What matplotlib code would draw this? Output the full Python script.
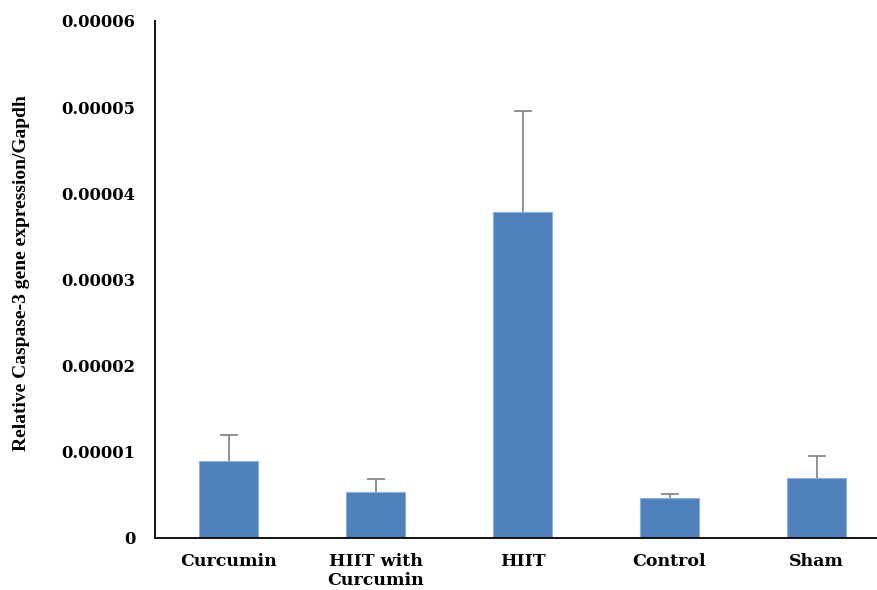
import matplotlib
matplotlib.use("Agg")
import matplotlib.pyplot as plt
from matplotlib.ticker import FixedLocator, FixedFormatter

# Relative Caspase-3 expression per group (mean and upper SD)
groups = ["Curcumin", "HIIT with\nCurcumin", "HIIT", "Control", "Sham"]
means = [0.0000089, 0.0000053, 0.0000378, 0.0000046, 0.0000070]
errors = [0.0000030, 0.0000016, 0.0000118, 0.0000005, 0.0000025]
yticks = [0, 0.00001, 0.00002, 0.00003, 0.00004, 0.00005, 0.00006]
ytick_labels = ["0", "0.00001", "0.00002", "0.00003", "0.00004", "0.00005", "0.00006"]

W, H = 877, 590
fig = plt.figure(figsize=(W / 100, H / 100), dpi=100)
ax = fig.add_axes([155 / W, 52 / H, (W - 155) / W, 517 / H])

wide_serif = ["DejaVu Serif"]
times_like = ["Liberation Serif", "DejaVu Serif"]

x = list(range(len(groups)))
ax.bar(x, means, width=0.395, color="#4F81BD", edgecolor="#8DB0DA",
       linewidth=0.8, zorder=2)
_, caps, _ = ax.errorbar(x, means, yerr=[[0] * len(errors), errors],
                         fmt="none", ecolor="#7F7F7F", elinewidth=1.2,
                         capsize=6.2, capthick=1.2, zorder=3)
# one-sided bars: drop the cap sitting on the bar top
caps[0].set_visible(False)

ax.set_xlim(-0.5, -0.5 + (W - 155) / 147)
ax.set_ylim(0, 0.00006)

ax.yaxis.set_major_locator(FixedLocator(yticks))
ax.yaxis.set_major_formatter(FixedFormatter(ytick_labels))
ax.set_xticks(x)
ax.set_xticklabels(groups, fontfamily=wide_serif, fontweight="bold",
                   fontsize=12.5, linespacing=1.15)
for lbl in ax.get_yticklabels():
    lbl.set_fontfamily(wide_serif)
    lbl.set_fontweight("bold")
    lbl.set_fontsize(11.8)

ax.tick_params(axis="both", length=0)
ax.tick_params(axis="y", pad=14)
ax.tick_params(axis="x", pad=10.5)

for side in ("top", "right"):
    ax.spines[side].set_visible(False)
for side in ("left", "bottom"):
    ax.spines[side].set_linewidth(1.3)
    ax.spines[side].set_color("black")

fig.text(22 / W, 1 - 273 / H, "Relative Caspase-3 gene expression/Gapdh",
         rotation=90, ha="center", va="center", fontfamily=times_like,
         fontweight="bold", fontsize=14)

fig.savefig("out.png", dpi=100)
